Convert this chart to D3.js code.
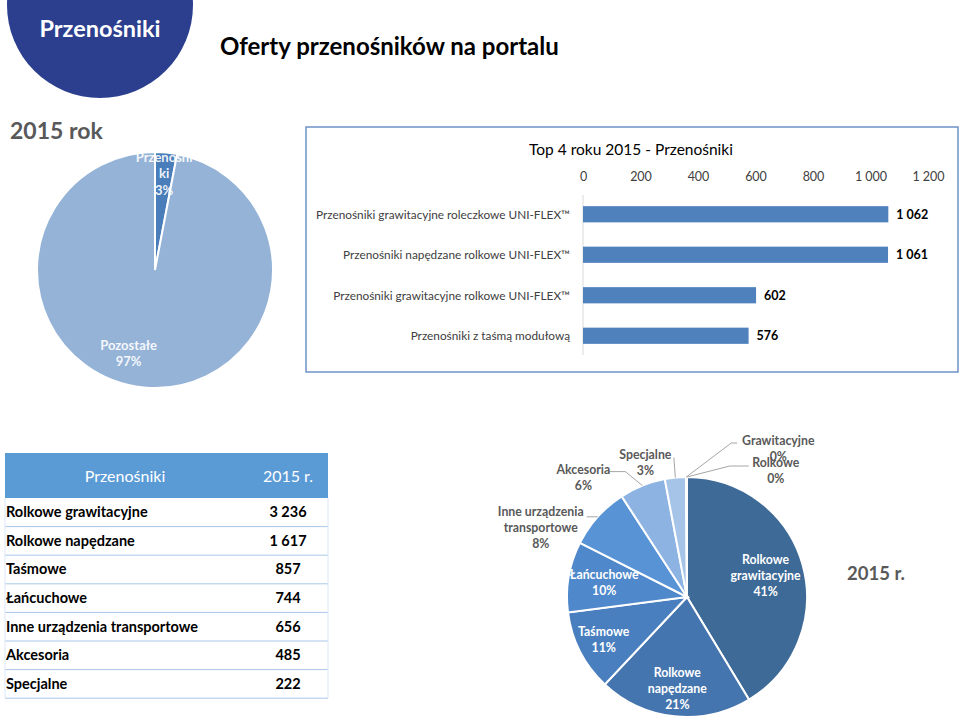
<!DOCTYPE html>
<html><head><meta charset="utf-8">
<script src="https://cdn.jsdelivr.net/npm/d3@7"></script>
<style>
html,body{margin:0;padding:0;background:#fff;}
svg{display:block;font-family:Lato,"Open Sans",sans-serif;}
</style></head>
<body><svg id="c" width="960" height="723"></svg>
<script>
// ---------- DATA ----------
const pageTitle = "Oferty przenośników na portalu";
const badgeText = "Przenośniki";
const yearLabel = "2015 rok";

const sharePieLabels = ["Przenośni\nki", "Pozostałe"];
const sharePieValues = [3, 97];

const barTitle = "Top 4 roku 2015 - Przenośniki";
const barCategories = [
  "Przenośniki grawitacyjne roleczkowe UNI-FLEX™",
  "Przenośniki napędzane rolkowe UNI-FLEX™",
  "Przenośniki grawitacyjne rolkowe UNI-FLEX™",
  "Przenośniki z taśmą modułową"
];
const barValues = [1062, 1061, 602, 576];
const barTicks = [0, 200, 400, 600, 800, 1000, 1200];

const tableHeader = ["Przenośniki", "2015 r."];
const tableCategories = ["Rolkowe grawitacyjne", "Rolkowe napędzane", "Taśmowe", "Łańcuchowe",
  "Inne urządzenia transportowe", "Akcesoria", "Specjalne"];
const tableValues = [3236, 1617, 857, 744, 656, 485, 222];

const pieCategories = ["Rolkowe grawitacyjne", "Rolkowe napędzane", "Taśmowe", "Łańcuchowe",
  "Inne urządzenia transportowe", "Akcesoria", "Specjalne", "Grawitacyjne", "Rolkowe"];
const pieValues = [3236, 1617, 857, 744, 656, 485, 222, 5, 5];
const pieYear = "2015 r.";

// ---------- STYLE / LAYOUT ----------
const svg = d3.select("#c");
const fmt = v => d3.format(",")(v).replace(/,/g, " ");

// badge
svg.append("circle").attr("cx", 100).attr("cy", 5).attr("r", 93).attr("fill", "#2b3f8e");
svg.append("text").attr("x", 100).attr("y", 37).attr("text-anchor", "middle")
  .attr("fill", "#fff").attr("font-weight", 700).attr("font-size", 23.5).text(badgeText);
svg.append("text").attr("x", 220).attr("y", 55).attr("fill", "#000")
  .attr("font-weight", 700).attr("font-size", 24).text(pageTitle);
svg.append("text").attr("x", 10).attr("y", 139).attr("fill", "#595959")
  .attr("font-weight", 700).attr("font-size", 23).text(yearLabel);

// ---------- share pie ----------
{
  const cx = 155, cy = 270, r = 118;
  const g = svg.append("g").attr("transform", `translate(${cx},${cy})`);
  const arcs = d3.pie().sort(null)(sharePieValues);
  const arc = d3.arc().innerRadius(0).outerRadius(r);
  const colors = ["#4a7ebb", "#95b3d7"];
  g.selectAll("path").data(arcs).join("path").attr("d", arc)
    .attr("fill", (d, i) => colors[i]).attr("stroke", "#fff").attr("stroke-width", 2);
  const labelRadius = [0.82, 0.76];
  const labelDx = [0, -18];
  const labelDy = [0, -6];
  arcs.forEach((d, i) => {
    const a = (d.startAngle + d.endAngle) / 2;
    const lr = r * labelRadius[i];
    const x = lr * Math.sin(a) + labelDx[i], y = -lr * Math.cos(a) + labelDy[i];
    const pct = Math.round(d.value / d3.sum(sharePieValues) * 100) + "%";
    const lines = sharePieLabels[i].split("\n").concat([pct]);
    const t = g.append("text").attr("text-anchor", "middle").attr("fill", "#fff")
      .attr("font-weight", 700).attr("font-size", 13).attr("fill-opacity", 0.92);
    lines.forEach((ln, k) => t.append("tspan").attr("x", x)
      .attr("y", y + (k - (lines.length - 1) / 2) * 16.5 + 4.5).text(ln));
  });
}

// ---------- bar chart ----------
{
  svg.append("rect").attr("x", 306).attr("y", 127).attr("width", 652).attr("height", 245)
    .attr("fill", "#fff").attr("stroke", "#6f93c8").attr("stroke-width", 1.5);
  svg.append("text").attr("x", 631).attr("y", 155).attr("text-anchor", "middle")
    .attr("font-size", 15.5).attr("fill", "#000").text(barTitle);
  const x = d3.scaleLinear().domain([0, 1200]).range([583, 928]);
  const y = d3.scaleBand().domain(barCategories).range([194, 356]).paddingInner(0.6).paddingOuter(0.3);
  const ax = svg.append("g").attr("transform", "translate(0,181)")
    .call(d3.axisTop(x).tickValues(barTicks).tickFormat(fmt).tickSize(0).tickPadding(0));
  ax.select(".domain").remove();
  ax.selectAll("text").attr("font-size", 12.5).attr("fill", "#404040")
    .attr("font-family", "Lato,sans-serif").attr("dy", 0);
  svg.append("line").attr("x1", x(0)).attr("x2", x(0)).attr("y1", 195).attr("y2", 355)
    .attr("stroke", "#d9d9d9");
  svg.selectAll(".bar").data(barValues).join("rect").attr("class", "bar")
    .attr("x", x(0)).attr("y", (d, i) => y(barCategories[i]))
    .attr("width", d => x(d) - x(0)).attr("height", y.bandwidth()).attr("fill", "#4f81bd");
  svg.selectAll(".bv").data(barValues).join("text").attr("class", "bv")
    .attr("x", d => x(d) + 8).attr("y", (d, i) => y(barCategories[i]) + y.bandwidth() / 2 + 4.5)
    .attr("font-size", 12.5).attr("font-weight", 700).attr("fill", "#000").text(fmt);
  svg.selectAll(".bc").data(barCategories).join("text").attr("class", "bc")
    .attr("x", 570).attr("y", d => y(d) + y.bandwidth() / 2 + 4.5).attr("text-anchor", "end")
    .attr("font-size", 11.8).attr("fill", "#404040").text(d => d);
}

// ---------- table ----------
{
  const x0 = 5, x1 = 328, hy = 453, hh = 45, rh = 28.6;
  svg.append("rect").attr("x", x0).attr("y", hy).attr("width", x1 - x0).attr("height", hh).attr("fill", "#5b9bd5");
  svg.append("text").attr("x", 125).attr("y", hy + hh / 2 + 6).attr("text-anchor", "middle")
    .attr("fill", "#fff").attr("font-size", 16).text(tableHeader[0]);
  svg.append("text").attr("x", 288).attr("y", hy + hh / 2 + 6).attr("text-anchor", "middle")
    .attr("fill", "#fff").attr("font-size", 16).text(tableHeader[1]);
  const y = d3.scaleBand().domain(d3.range(tableCategories.length))
    .range([hy + hh, hy + hh + rh * tableCategories.length]);
  const rows = svg.selectAll(".row").data(tableCategories).join("g").attr("class", "row")
    .attr("transform", (d, i) => `translate(0,${y(i)})`);
  rows.append("line").attr("x1", x0).attr("x2", x1).attr("y1", rh).attr("y2", rh)
    .attr("stroke", "#a9c8e8").attr("stroke-width", 1);
  rows.append("text").attr("x", x0 + 1).attr("y", rh / 2 + 5).attr("font-size", 14.5)
    .attr("font-weight", 700).attr("fill", "#000").text(d => d);
  rows.append("text").attr("x", 288).attr("y", rh / 2 + 5).attr("text-anchor", "middle")
    .attr("font-size", 14.5).attr("font-weight", 700).attr("fill", "#000")
    .text((d, i) => fmt(tableValues[i]));
  svg.append("line").attr("x1", x0).attr("x2", x0).attr("y1", hy + hh).attr("y2", y.range()[1]).attr("stroke", "#dbe7f4");
  svg.append("line").attr("x1", x1).attr("x2", x1).attr("y1", hy + hh).attr("y2", y.range()[1]).attr("stroke", "#dbe7f4");
}

// ---------- category pie ----------
{
  const cx = 687, cy = 597, r = 120;
  const g = svg.append("g").attr("transform", `translate(${cx},${cy})`);
  const colors = ["#3e6a97", "#4575ae", "#4a7fbf", "#4f88cb", "#5893d6", "#8db3e2", "#a6c3e8", "#b8cfec", "#c6d9f0"];
  const arcs = d3.pie().sort(null)(pieValues);
  const arc = d3.arc().innerRadius(0).outerRadius(r);
  g.selectAll("path").data(arcs).join("path").attr("d", arc)
    .attr("fill", (d, i) => colors[i]).attr("stroke", "#fff").attr("stroke-width", 2);
  const total = d3.sum(pieValues);
  const wrap = s => {
    const words = s.split(" "); const lines = []; let cur = "";
    words.forEach(w => { if (cur && (cur + " " + w).length > 15) { lines.push(cur); cur = w; } else cur = cur ? cur + " " + w : w; });
    lines.push(cur); return lines;
  };
  // inside label radii; outside label offsets relative to slice edge
  const inside = { 0: 0.68, 1: 0.77, 2: 0.78, 3: 0.7 };
  const outside = {
    4: { dx: -57, dy: 11, leader: [[-11, 0]] },
    5: { dx: -59, dy: -8, leader: [[-17, -14], [-33, -14]] },
    6: { dx: -30, dy: -15, leader: [[-1.5, -20]] },
    7: { dx: 92, dy: -29, leader: [[45, -34], [51, -34]] },
    8: { dx: 89, dy: -7, leader: [[43, -11], [62, -11]] }
  };
  arcs.forEach((d, i) => {
    const a = (d.startAngle + d.endAngle) / 2;
    const pct = Math.round(d.value / total * 100) + "%";
    const lines = wrap(pieCategories[i]).concat([pct]);
    let x, y, fill;
    if (inside[i] !== undefined) {
      x = r * inside[i] * Math.sin(a); y = -r * inside[i] * Math.cos(a); fill = "#fff";
    } else {
      const ex = r * Math.sin(a), ey = -r * Math.cos(a);
      const o = outside[i];
      x = ex + o.dx; y = ey + o.dy; fill = "#595959";
      const pts = [[ex, ey]].concat(o.leader.map(p => [ex + p[0], ey + p[1]]));
      g.append("path").attr("d", d3.line()(pts)).attr("fill", "none")
        .attr("stroke", "#a6a6a6").attr("stroke-width", 1);
    }
    const t = g.append("text").attr("text-anchor", "middle").attr("fill", fill)
      .attr("font-weight", 700).attr("font-size", 12.3);
    lines.forEach((ln, k) => t.append("tspan").attr("x", x)
      .attr("y", y + (k - (lines.length - 1) / 2) * 16 + 4.5).text(ln));
  });
  svg.append("text").attr("x", 876).attr("y", 580).attr("text-anchor", "middle")
    .attr("font-size", 18.5).attr("font-weight", 700).attr("fill", "#595959").text(pieYear);
}
</script></body></html>
